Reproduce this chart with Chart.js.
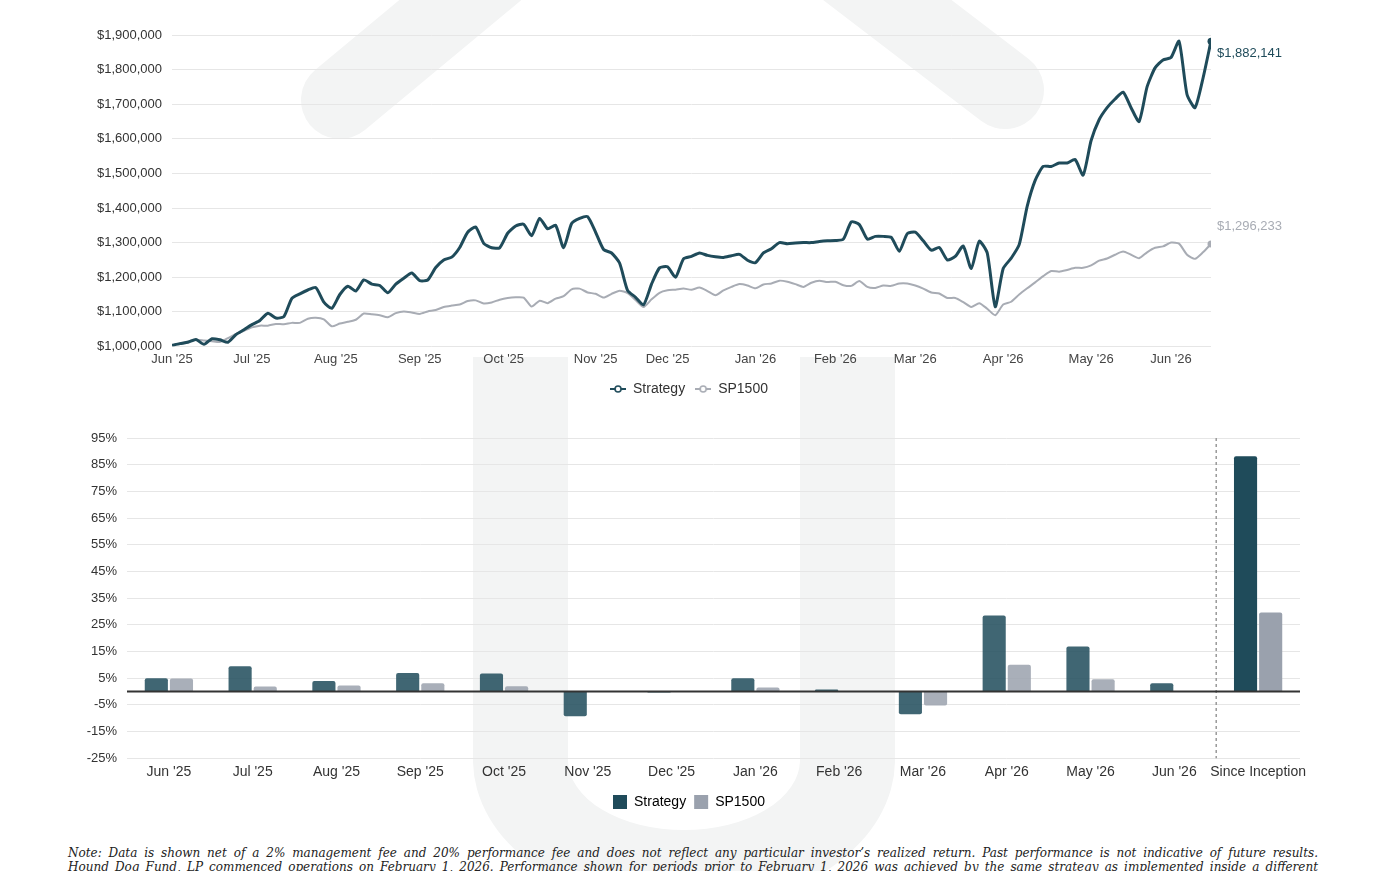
<!DOCTYPE html>
<html>
<head>
<meta charset="utf-8">
<script src="https://cdn.jsdelivr.net/npm/chart.js@4"></script>
<style>
  body { margin: 0; background: #fff; }
  #wrap { position: relative; width: 1400px; height: 871px; overflow: hidden; }
  #mark { position: absolute; left: 0; top: 0; }
  canvas { position: absolute; left: 0; }
  #note {
    position: absolute; left: 68px; top: 847px; width: 1250px; margin: 0;
    font-family: "DejaVu Serif", serif; font-style: italic; font-size: 12px;
    line-height: 13.5px; color: #222; white-space: nowrap;
    text-align: justify; text-align-last: justify;
  }
</style>
</head>
<body>
<div id="wrap">
  <svg id="mark" width="1400" height="871">
    <polyline points="340,100 665,-170 1005,90" fill="none" stroke="#f3f4f4" stroke-width="78" stroke-linecap="round" stroke-linejoin="round"/>
    <path d="M473,357 V760 A211,150 0 0 0 895,760 V357 H800 V760 A116,70 0 0 1 568,760 V357 Z" fill="#f3f4f4"/>
  </svg>
  <canvas id="growth" width="1378" height="406" style="top:0"></canvas>
  <canvas id="returns" width="1378" height="409" style="top:410px"></canvas>
  <p id="note">Note: Data is shown net of a 2% management fee and 20% performance fee and does not reflect any particular investor’s realized return. Past performance is not indicative of future results.<br>Hound Dog Fund, LP commenced operations on February 1, 2026. Performance shown for periods prior to February 1, 2026 was achieved by the same strategy as implemented inside a different</p>
</div>
<script>
// growth of $1,000,000, one value every 2 trading days (in $ thousands)
const sampleStep = 2;
const strategyK = [
  1003,1008,1012,1020,1006,1022,1019,1012,1034,1048,
  1063,1075,1096,1082,1086,1139,1152,1163,1170,1128,
  1110,1150,1174,1160,1192,1180,1176,1155,1180,1197,
  1212,1190,1192,1228,1250,1258,1286,1330,1345,1298,
  1285,1285,1327,1348,1353,1320,1370,1340,1350,1285,
  1355,1370,1375,1330,1280,1270,1241,1162,1142,1120,
  1180,1227,1230,1200,1253,1260,1270,1263,1259,1257,
  1262,1266,1249,1242,1270,1282,1300,1297,1299,1300,
  1300,1303,1305,1306,1310,1360,1352,1310,1318,1318,
  1315,1275,1326,1330,1305,1278,1286,1250,1260,1290,
  1225,1304,1270,1115,1225,1255,1294,1405,1480,1520,
  1520,1530,1530,1540,1495,1595,1655,1690,1715,1735,
  1690,1650,1750,1805,1828,1835,1882,1728,1690,1775,
  1882.141
];
const sp1500K = [
  1003,1009,1014,1019,1017,1015,1013,1024,1036,1045,
  1055,1060,1060,1065,1064,1068,1068,1080,1083,1078,
  1058,1066,1071,1077,1095,1093,1090,1084,1096,1101,
  1098,1094,1101,1105,1114,1118,1121,1131,1133,1124,
  1127,1135,1140,1142,1141,1115,1132,1125,1138,1145,
  1165,1167,1156,1152,1141,1152,1161,1154,1134,1114,
  1136,1155,1162,1164,1167,1164,1170,1160,1148,1162,
  1172,1180,1176,1168,1179,1182,1190,1187,1180,1172,
  1184,1190,1186,1187,1177,1175,1189,1172,1169,1176,
  1175,1182,1182,1176,1167,1156,1153,1140,1140,1128,
  1114,1125,1109,1090,1121,1129,1150,1168,1185,1203,
  1218,1216,1221,1227,1227,1234,1248,1254,1265,1274,
  1265,1255,1272,1285,1289,1300,1297,1265,1253,1272,
  1296.233
];
const monthLabels = ["Jun '25","Jul '25","Aug '25","Sep '25","Oct '25","Nov '25","Dec '25","Jan '26","Feb '26","Mar '26","Apr '26","May '26","Jun '26"];
const monthStartDay = [0,20,41,62,83,106,124,146,166,186,208,230,250];

// monthly returns, %
const barCategories = ["Jun '25","Jul '25","Aug '25","Sep '25","Oct '25","Nov '25","Dec '25","Jan '26","Feb '26","Mar '26","Apr '26","May '26","Jun '26","Since Inception"];
const strategyReturns = [5.0, 9.5, 3.9, 6.9, 6.75, -9.25, -0.4, 5.0, 0.75, -8.5, 28.5, 16.9, 3.1, 88.2];
const sp1500Returns = [4.9, 1.9, 2.2, 3.1, 2.0, 0.2, 0.1, 1.5, -0.2, -5.25, 10.0, 4.6, -0.2, 29.6];

const dark = '#1f4b5a';
const grey = '#a8acb4';

Chart.defaults.font.family = '"Liberation Sans", Arial, sans-serif';
Chart.defaults.color = '#333';

function legendMark(color){
  const c = document.createElement('canvas');
  c.width = 16; c.height = 10;
  const g = c.getContext('2d');
  g.strokeStyle = color; g.lineWidth = 2;
  g.beginPath(); g.moveTo(0,5); g.lineTo(16,5); g.stroke();
  g.fillStyle = '#fff'; g.lineWidth = 1.6;
  g.beginPath(); g.arc(8,5,3,0,Math.PI*2); g.fill(); g.stroke();
  return c;
}

// empty right-hand axis that only reserves room (keeps the legend centred on the plot)
function spacer(width){
  return {
    position: 'right', display: true,
    afterFit: s => { s.width = width; },
    grid: { display: false }, border: { display: false },
    ticks: { display: false }
  };
}

const endLabels = {
  id: 'endLabels',
  afterDatasetsDraw(chart){
    const ctx = chart.ctx;
    ctx.save();
    ctx.font = '13px "Liberation Sans", Arial, sans-serif';
    ctx.textAlign = 'left';
    ctx.textBaseline = 'middle';
    chart.data.datasets.forEach((ds, i) => {
      const pts = chart.getDatasetMeta(i).data;
      const p = pts[pts.length-1];
      const v = ds.data[ds.data.length-1].y;
      ctx.fillStyle = ds.borderColor;
      ctx.fillText('$' + Math.round(v).toLocaleString('en-US'), p.x + 6, p.y + (i === 0 ? 12 : -17));
    });
    ctx.restore();
  }
};

const lastIdx = strategyK.length - 1;

new Chart(document.getElementById('growth'), {
  type: 'line',
  data: {
    datasets: [
      {
        label: 'Strategy',
        data: strategyK.map((v,i) => ({x: i*sampleStep, y: v*1000})),
        borderColor: dark, backgroundColor: dark,
        borderWidth: 3, tension: 0.2,
        pointRadius: c => c.dataIndex === lastIdx ? 3.5 : 0,
        pointBorderWidth: 0
      },
      {
        label: 'SP1500',
        data: sp1500K.map((v,i) => ({x: i*sampleStep, y: v*1000})),
        borderColor: grey, backgroundColor: grey,
        borderWidth: 2, tension: 0.2,
        pointRadius: c => c.dataIndex === lastIdx ? 3.5 : 0,
        pointBorderWidth: 0
      }
    ]
  },
  options: {
    responsive: false,
    animation: false,
    layout: { padding: { top: 35, right: 0, left: 0, bottom: 0 } },
    scales: {
      x: {
        type: 'linear', min: 0, max: (strategyK.length-1)*sampleStep,
        grid: { display: false, drawTicks: false }, border: { display: false },
        afterBuildTicks: s => { s.ticks = monthStartDay.map(d => ({value: d})); },
        ticks: {
          autoSkip: false, maxRotation: 0, padding: 5,
          font: { size: 13 }, color: '#444',
          callback: v => monthLabels[monthStartDay.indexOf(v)]
        }
      },
      y: {
        min: 1000000, max: 1900000,
        afterFit: s => { s.width = 172; },
        grid: { color: '#e6e6e6', drawTicks: false }, border: { display: false },
        ticks: {
          stepSize: 100000, padding: 10, font: { size: 13 }, color: '#333',
          callback: v => '$' + v.toLocaleString('en-US')
        }
      },
      room: spacer(167)
    },
    plugins: {
      tooltip: { enabled: false },
      legend: {
        position: 'bottom',
        labels: {
          usePointStyle: true, pointStyleWidth: 16, padding: 10,
          font: { size: 14 }, color: '#333',
          generateLabels: chart => {
            const items = Chart.defaults.plugins.legend.labels.generateLabels(chart);
            items.forEach(it => { it.pointStyle = legendMark(it.strokeStyle); });
            return items;
          }
        }
      }
    }
  },
  plugins: [endLabels]
});

const zeroAndDivider = {
  id: 'zeroAndDivider',
  afterDatasetsDraw(chart){
    const ctx = chart.ctx, a = chart.chartArea;
    const x = chart.scales.x, y = chart.scales.y;
    const y0 = y.getPixelForValue(0);
    const n = barCategories.length;
    const xd = (x.getPixelForValue(n-2) + x.getPixelForValue(n-1)) / 2;
    ctx.save();
    ctx.strokeStyle = '#999'; ctx.lineWidth = 1.5; ctx.setLineDash([3,3]);
    ctx.beginPath(); ctx.moveTo(xd, a.top); ctx.lineTo(xd, a.bottom); ctx.stroke();
    ctx.setLineDash([]);
    ctx.strokeStyle = '#333'; ctx.lineWidth = 2;
    ctx.beginPath(); ctx.moveTo(a.left, y0); ctx.lineTo(a.right, y0); ctx.stroke();
    ctx.restore();
  }
};

const lastBar = barCategories.length - 1;

new Chart(document.getElementById('returns'), {
  type: 'bar',
  data: {
    labels: barCategories,
    datasets: [
      {
        label: 'Strategy', data: strategyReturns,
        backgroundColor: barCategories.map((c,i) => i === lastBar ? dark : 'rgba(31,75,90,0.85)'),
        borderRadius: 2
      },
      {
        label: 'SP1500', data: sp1500Returns,
        backgroundColor: barCategories.map((c,i) => i === lastBar ? '#9aa1ad' : 'rgba(154,161,173,0.85)'),
        borderRadius: 2
      }
    ]
  },
  options: {
    responsive: false,
    animation: false,
    categoryPercentage: 0.6,
    barPercentage: 0.92,
    layout: { padding: { top: 28, right: 0, left: 0, bottom: 0 } },
    scales: {
      x: {
        grid: { display: false, drawTicks: false }, border: { display: false },
        ticks: { padding: 6, font: { size: 14 }, color: '#333', autoSkip: false, maxRotation: 0 }
      },
      y: {
        min: -25, max: 95,
        afterFit: s => { s.width = 127; },
        grid: { color: '#e6e6e6', drawTicks: false }, border: { display: false },
        ticks: { stepSize: 10, padding: 10, font: { size: 13 }, color: '#333', callback: v => v + '%' }
      },
      room: spacer(78)
    },
    plugins: {
      tooltip: { enabled: false },
      legend: {
        position: 'bottom',
        labels: {
          boxWidth: 14, boxHeight: 14, padding: 8,
          font: { size: 14 }, color: '#333',
          generateLabels: chart => chart.data.datasets.map((ds, i) => ({
            text: ds.label,
            fillStyle: i === 0 ? dark : '#9aa1ad',
            strokeStyle: 'transparent', lineWidth: 0,
            datasetIndex: i, hidden: false
          }))
        }
      }
    }
  },
  plugins: [zeroAndDivider]
});
</script>
</body>
</html>
